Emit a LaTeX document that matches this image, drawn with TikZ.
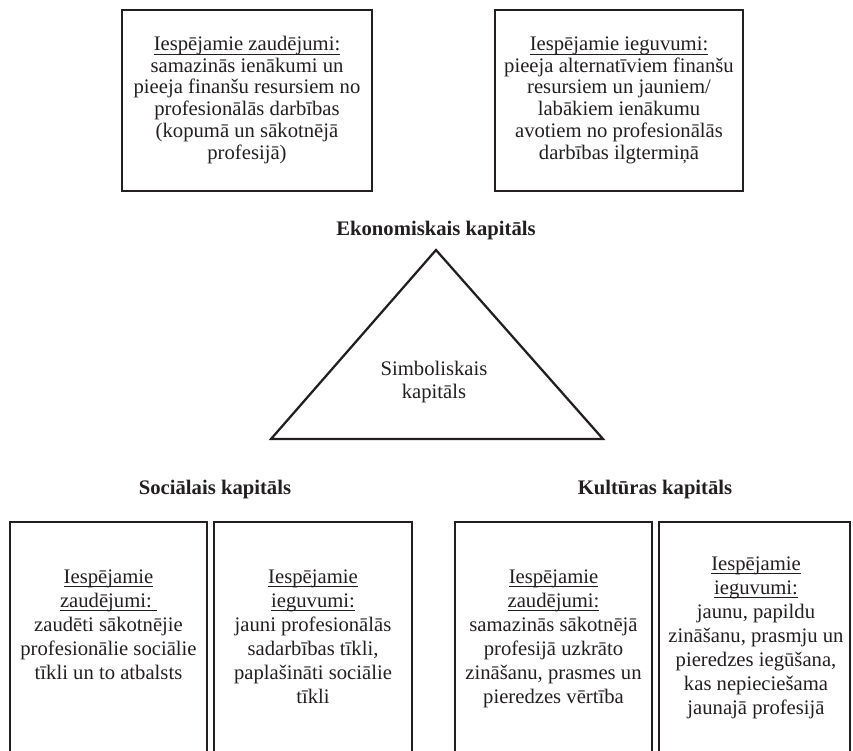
\documentclass[tikz,border=0pt]{standalone}
\usepackage{fontspec}
\setmainfont{Liberation Serif}
\definecolor{ink}{HTML}{231F20}
% underline at a fixed depth below the baseline
\newcommand\ulx[1]{\setbox0\hbox{#1}\rlap{\rule[-3pt]{\wd0}{0.7pt}}\box0}

\begin{document}
\begin{tikzpicture}[x=0.75pt,y=-0.75pt,
  frame/.style={draw=ink, line width=1.9pt},
  body/.style={text=ink, align=center, inner sep=0pt,
    font=\fontsize{15.5}{18}\selectfont},
  topbody/.style={body, font=\fontsize{15.5}{16.3}\selectfont},
  midbody/.style={body, font=\fontsize{15.5}{17.3}\selectfont},
  capital/.style={text=ink, inner sep=0pt, anchor=base,
    font=\fontsize{15.5}{17}\selectfont\bfseries},
  tri/.style={draw=ink, line width=1.7pt, line join=miter}]

\useasboundingbox (0,0) rectangle (853,750);
\clip (0,0) rectangle (853,750);

% economic capital: losses and gains
\draw[frame] (122,10) rectangle (372,191);
\node[topbody] (econLoss) at (247,100.5) {\strut\ulx{Iespējamie zaudējumi:}\\
  samazinās ienākumi un\\ pieeja finanšu resursiem no\\ profesionālās darbības\\
  (kopumā un sākotnējā\\ profesijā)\strut};

\draw[frame] (495,10) rectangle (743,191);
\node[topbody] (econGain) at (619,100.5) {\strut\ulx{Iespējamie ieguvumi:}\\
  pieeja alternatīviem finanšu\\ resursiem un jauniem/\\ labākiem ienākumu\\
  avotiem no profesionālās\\ darbības ilgtermiņā\strut};

% the capital triangle
\node[capital] (econ) at (436,235) {Ekonomiskais kapitāls};
\coordinate (apex) at (436,250);
\coordinate (baseR) at (603,439);
\coordinate (baseL) at (271,439);
\draw[tri] (apex) -- (baseR) -- (baseL) -- cycle;
\node[midbody, anchor=north] (symb) at (434,358.9) {\strut Simboliskais\\ kapitāls\strut};

\node[capital] (social) at (215,494) {Sociālais kapitāls};
\node[capital] (cultural) at (655,494) {Kultūras kapitāls};

% social capital: losses and gains
\draw[frame] (10,522) rectangle (207,780);
\node[body, anchor=north] (socLoss) at (108.5,566.2) {\strut\ulx{Iespējamie}\\
  \ulx{zaudējumi:\ }\\ zaudēti sākotnējie\\ profesionālie sociālie\\
  tīkli un to atbalsts\strut};

\draw[frame] (214,522) rectangle (412,780);
\node[body, anchor=north] (socGain) at (313,566.2) {\strut\ulx{Iespējamie}\\
  \ulx{ieguvumi:}\\ jauni profesionālās\\ sadarbības tīkli,\\
  paplašināti sociālie\\ tīkli\strut};

% cultural capital: losses and gains
\draw[frame] (455,522) rectangle (652,780);
\node[body, anchor=north] (culLoss) at (553.5,566.2) {\strut\ulx{Iespējamie}\\
  \ulx{zaudējumi:}\\ samazinās sākotnējā\\ profesijā uzkrāto\\
  zināšanu, prasmes un\\ pieredzes vērtība\strut};

\draw[frame] (659,522) rectangle (850,780);
\node[body, anchor=north] (culGain) at (756,553.2) {\strut\ulx{Iespējamie}\\
  \ulx{ieguvumi:}\\ jaunu, papildu\\ zināšanu, prasmju un\\
  pieredzes iegūšana,\\ kas nepieciešama\\ jaunajā profesijā\strut};
\end{tikzpicture}
\end{document}
